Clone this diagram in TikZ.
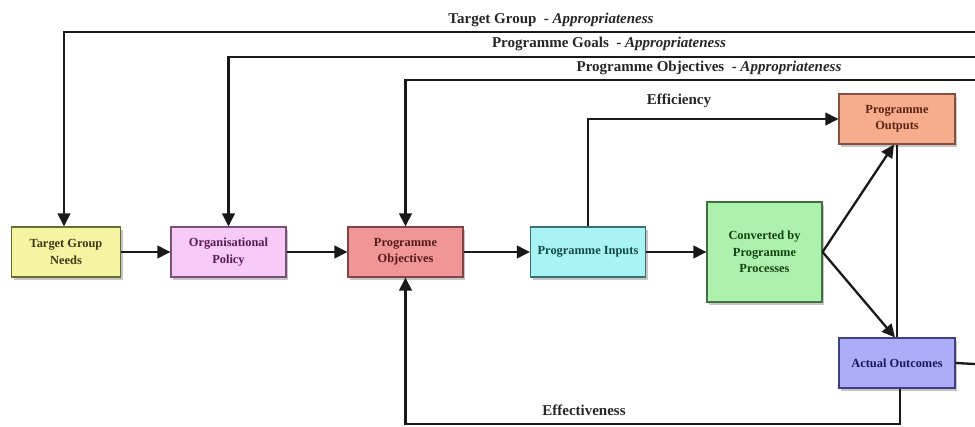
\documentclass[tikz,border=0pt]{standalone}
\usepackage{fontspec}
\setmainfont{Liberation Serif}
\usetikzlibrary{arrows.meta,shadows}
\definecolor{tgnF}{HTML}{F4F4A2}\definecolor{tgnD}{HTML}{6A6A34}\definecolor{tgnT}{HTML}{3A3A14}
\definecolor{orgF}{HTML}{F8CAF8}\definecolor{orgD}{HTML}{7A507A}\definecolor{orgT}{HTML}{561A56}
\definecolor{objF}{HTML}{F09696}\definecolor{objD}{HTML}{804444}\definecolor{objT}{HTML}{561A1A}
\definecolor{inpF}{HTML}{A8F4F4}\definecolor{inpD}{HTML}{3A7070}\definecolor{inpT}{HTML}{124A4A}
\definecolor{conF}{HTML}{ACF2AC}\definecolor{conD}{HTML}{407040}\definecolor{conT}{HTML}{124212}
\definecolor{outF}{HTML}{F8AC8E}\definecolor{outD}{HTML}{805040}\definecolor{outT}{HTML}{5A2412}
\definecolor{actF}{HTML}{ACACF8}\definecolor{actD}{HTML}{404080}\definecolor{actT}{HTML}{1A1A5A}
\begin{document}
\begin{tikzpicture}[x=1pt,y=-1pt,
  box/.style={draw, line width=1.1pt, minimum width=115pt, minimum height=50pt, inner sep=2pt,
    align=center, font=\fontsize{12.4}{16.5}\selectfont\bfseries,
    drop shadow={shadow xshift=2pt, shadow yshift=-3pt, opacity=0.45}},
  conn/.style={line width=2.3pt, black!90},
  arr/.style={conn, -{Triangle[length=13pt,width=12.5pt]}},
  lab/.style={font=\fontsize{15}{17}\selectfont\bfseries, text=black!85, inner sep=0pt}]
\useasboundingbox (0,0) rectangle (975,426);
% boxes
\node[box, fill=tgnF, draw=tgnD, text=tgnT, minimum width=109pt] (tgn) at (66,252) {Target Group\\Needs};
\node[box, fill=orgF, draw=orgD, text=orgT] (org) at (228.5,252) {Organisational\\Policy};
\node[box, fill=objF, draw=objD, text=objT] (obj) at (405.5,252) {Programme\\Objectives};
\node[box, fill=inpF, draw=inpD, text=inpT] (inp) at (588,252) {Programme Inputs};
\node[box, fill=conF, draw=conD, text=conT, minimum height=100pt] (con) at (764.5,252) {Converted by\\Programme\\Processes};
\node[box, fill=outF, draw=outD, text=outT, minimum width=116pt] (out) at (897,119) {Programme\\Outputs};
\node[box, fill=actF, draw=actD, text=actT, minimum width=116pt] (act) at (897,363) {Actual Outcomes};
% free ends
\coordinate (r1) at (975,32);
\coordinate (r2) at (975,57);
\coordinate (r3) at (975,80);
\coordinate (r4) at (975,364);
\coordinate (b1) at (900,424);
% connectors
\draw[arr] (r1) -| ([xshift=-2pt]tgn.north);
\draw[arr] (r2) -| (org.north);
\draw[arr] (r3) -| (obj.north);
\draw[arr] (tgn) -- (org);
\draw[arr] (org) -- (obj);
\draw[arr] (obj) -- (inp);
\draw[arr] (inp) -- (con);
\draw[arr] (inp.north) |- (out.west);
\draw[arr] (con.east) -- ([xshift=-3pt]out.south);
\draw[arr] (con.east) -- ([xshift=-2pt]act.north);
\draw[conn] (out.south) -- (act.north);
\draw[conn] (act.east) -- (r4);
\draw[arr] ([xshift=3pt]act.south) -- (b1) -| (obj.south);
% labels
\node[lab] (l1) at (551,20) {Target Group\ \ - \textit{Appropriateness}};
\node[lab] (l2) at (609,44) {Programme Goals\ \ - \textit{Appropriateness}};
\node[lab] (l3) at (709,68) {Programme Objectives\ \ - \textit{Appropriateness}};
\node[lab] (l4) at (679,101) {Efficiency};
\node[lab] (l5) at (584,410) {Effectiveness};
\end{tikzpicture}
\end{document}
